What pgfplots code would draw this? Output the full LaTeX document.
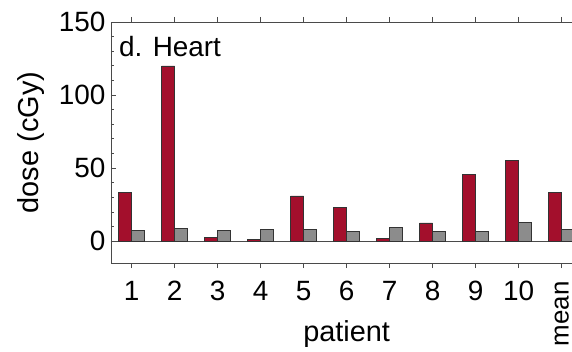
\documentclass[border=0pt]{standalone}
\usepackage{pgfplots}
\pgfplotsset{compat=1.18}
\usepackage{fontspec}
\setmainfont{Liberation Sans}
\definecolor{barred}{HTML}{A30F2C}
\definecolor{bargray}{HTML}{8C8C8C}
\definecolor{axgray}{HTML}{4A4A4A}
\begin{document}
\begin{tikzpicture}
\begin{axis}[
  name=ax,
  scale only axis,
  width=471.3bp, height=241bp,
  xmin=0.52, xmax=11.48,
  ymin=-15, ymax=150,
  ytick={0,50,100,150},
  minor y tick num=4,
  xtick={1,2,3,4,5,6,7,8,9,10,11},
  xticklabels={1,2,3,4,5,6,7,8,9,10,{\fontsize{26}{30}\selectfont\rotatebox{90}{mean}}},
  tick align=inside,
  major tick length=5bp,
  minor tick length=3bp,
  axis line style={axgray, line width=1pt},
  every tick/.style={axgray, line width=0.7pt},
  ticklabel style={font=\fontsize{28}{32}\selectfont},
  /pgf/number format/assume math mode=true,
  yticklabel style={xshift=-2bp},
  xticklabel style={yshift=-10bp},
  xlabel={patient},
  ylabel={dose (cGy)},
  label style={font=\fontsize{29}{33}\selectfont},
  xlabel style={at={(axis description cs:0.5,0)}, anchor=base, yshift=-78.7bp, inner sep=0pt},
  ylabel style={at={(axis description cs:0,0.5)}, anchor=south, yshift=66bp, inner sep=0pt},
  extra y ticks={0},
  extra y tick labels={},
  extra y tick style={grid=major, major grid style={axgray, line width=0.8pt}, major tick length=0pt},
  ybar,
  bar width=13bp,
  clip=false,
]
\addplot[fill=barred, draw=black!80, line width=0.6pt, bar shift=-6.5bp]
  coordinates {(1,33.3) (2,120) (3,2.5) (4,1) (5,31) (6,22.8) (7,1.8) (8,12.5) (9,45.7) (10,55.3) (11,33.1)};
\addplot[fill=bargray, draw=black!80, line width=0.6pt, bar shift=6.5bp]
  coordinates {(1,7.5) (2,8.7) (3,7.5) (4,8.2) (5,8.2) (6,6.4) (7,9.4) (8,6.8) (9,6.8) (10,13) (11,8.2)};
\node[anchor=base west, inner sep=0pt, font=\fontsize{28}{32}\selectfont] at (rel axis cs:0,1) [xshift=8bp, yshift=-34.7bp] {d. Heart};
\end{axis}
\pgfresetboundingbox
\path[use as bounding box] ([xshift=-111bp,yshift=-89bp]ax.south west) rectangle ++(572bp,352bp);
\end{tikzpicture}
\end{document}
